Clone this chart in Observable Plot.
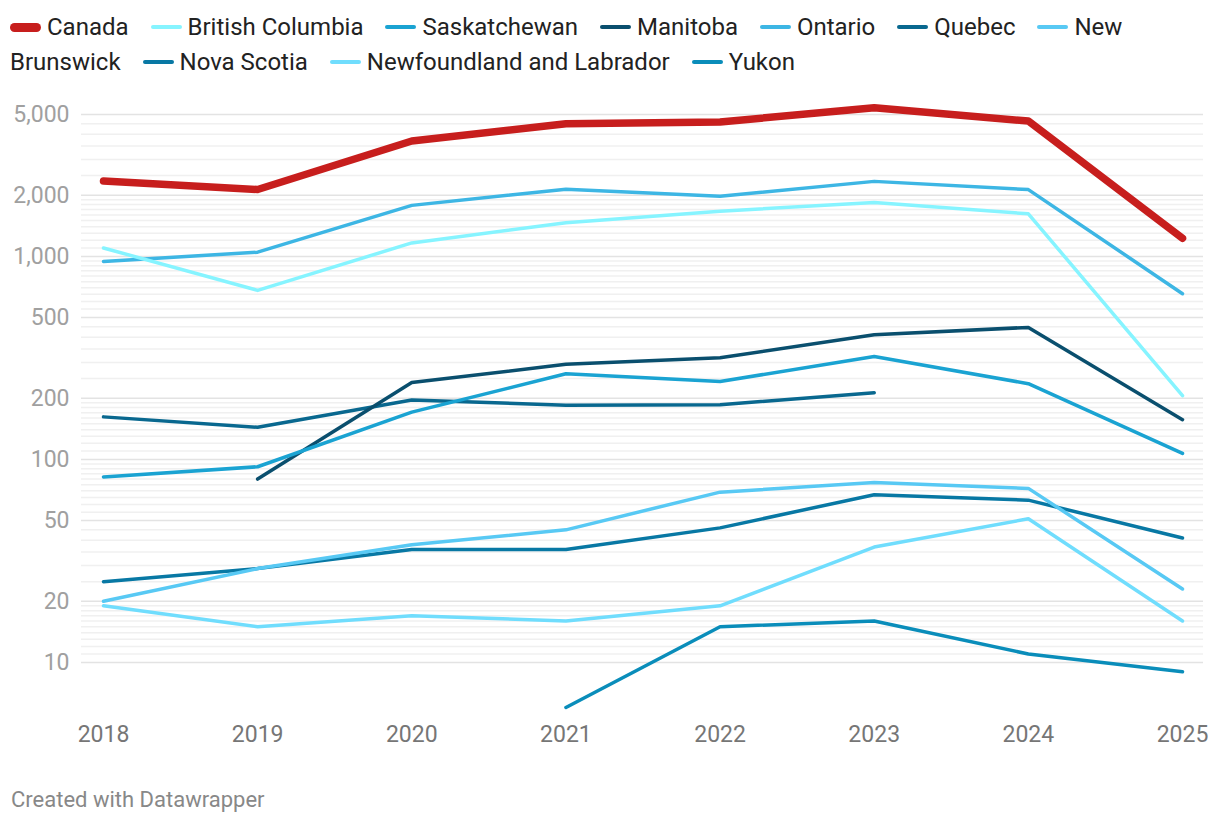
<!DOCTYPE html>
<html>
<head>
<meta charset="utf-8">
<script src="https://cdn.jsdelivr.net/npm/d3@7"></script>
<script src="https://cdn.jsdelivr.net/npm/@observablehq/plot@0.6"></script>
<style>
  html, body { margin: 0; padding: 0; background: #fff; }
  body { width: 1220px; height: 826px; overflow: hidden; font-family: Roboto, sans-serif; }
  #legend { height: 88px; box-sizing: border-box; padding: 9.5px 10px 0 10px; font-size: 24px; line-height: 35px; color: #222; }
  #legend .item { margin-right: 16px; }
  #legend .nw { white-space: nowrap; }
  #legend .sw { display: inline-block; width: 31px; height: 4.5px; border-radius: 3px; margin-right: 6px; vertical-align: 5.5px; }
  #legend .sw.thick { height: 9px; border-radius: 5px; vertical-align: 3px; }
  #chart svg { display: block; }
  #chart g[aria-label^="x-axis"] text { fill: #767676; }
  #caption { margin-top: 19px; padding-left: 11px; font-size: 22px; line-height: 26px; color: #888; }
</style>
</head>
<body>
<div id="legend"></div>
<div id="chart"></div>
<div id="caption">Created with Datawrapper</div>
<script>
const years = [2018, 2019, 2020, 2021, 2022, 2023, 2024, 2025];

const seriesNames = ["Canada", "British Columbia", "Saskatchewan", "Manitoba", "Ontario", "Quebec", "New Brunswick", "Nova Scotia", "Newfoundland and Labrador", "Yukon"];

const canada          = [2350, 2135, 3700, 4500, 4590, 5400, 4640, 1227];
const britishColumbia = [1100, 680, 1165, 1465, 1670, 1840, 1620, 206];
const saskatchewan    = [82, 92, 171, 264, 242, 321, 236, 107];
const manitoba        = [null, 80, 239, 294, 317, 411, 447, 157];
const ontario         = [944, 1049, 1783, 2143, 1976, 2341, 2133, 655];
const quebec          = [162, 144, 196, 185, 186, 213, null, null];
const newBrunswick    = [20, 29, 38, 45, 69, 77, 72, 23];
const novaScotia      = [25, 29, 36, 36, 46, 67, 63, 41];
const newfoundland    = [19, 15, 17, 16, 19, 37, 51, 16];
const yukon           = [null, null, null, 6, 15, 16, 11, 9];

const yTicks = [10, 20, 50, 100, 200, 500, 1000, 2000, 5000];

const seriesValues = [canada, britishColumbia, saskatchewan, manitoba, ontario, quebec, newBrunswick, novaScotia, newfoundland, yukon];
const seriesColors = ["#c71e1d", "#86f4ff", "#1aa3d2", "#0a4f6e", "#3db6e4", "#09688f", "#58c9f4", "#0878a4", "#70ddfd", "#0a8dba"];

// tidy table
const data = [];
seriesNames.forEach((name, i) => {
  seriesValues[i].forEach((v, j) => {
    if (v != null) data.push({series: name, year: years[j], value: v});
  });
});

// minor gridlines (log sub-divisions)
const minorGrid = [];
for (const b of [10, 100, 1000]) {
  for (let k = 11; k < 20; k++) minorGrid.push(b * k / 10);
  for (let k = 25; k < 100; k += 5) minorGrid.push(b * k / 10);
}
const minorFiltered = minorGrid.filter(v => v >= 10 && v <= 5000 && !yTicks.includes(v));

// legend
const legend = document.getElementById("legend");
seriesNames.forEach((name, i) => {
  const item = document.createElement("span");
  item.className = "item";
  const words = name.split(" ");
  const nw = document.createElement("span");
  nw.className = "nw";
  const sw = document.createElement("i");
  sw.className = "sw" + (i === 0 ? " thick" : "");
  sw.style.background = seriesColors[i];
  nw.appendChild(sw);
  nw.appendChild(document.createTextNode(words[0]));
  item.appendChild(nw);
  if (words.length > 1) item.appendChild(document.createTextNode(" " + words.slice(1).join(" ")));
  legend.appendChild(item);
  legend.appendChild(document.createTextNode(" "));
});

const lineMarks = seriesNames.map((name, i) => i).reverse().map(i =>
  Plot.line(data.filter(d => d.series === seriesNames[i]), {
    x: "year", y: "value",
    stroke: seriesColors[i],
    strokeWidth: i === 0 ? 7.5 : 3.5,
    strokeLinecap: "round", strokeLinejoin: "round"
  })
);

const fmt = d3.format(",");

const chart = Plot.plot({
  width: 1220,
  height: 680,
  marginLeft: 81,
  marginRight: 17,
  marginTop: 22.5,
  marginBottom: 61,
  style: {fontFamily: "Roboto, sans-serif", fontSize: "23px", background: "transparent", overflow: "visible"},
  x: {domain: [2018, 2025], insetLeft: 22, insetRight: 21, ticks: years, tickFormat: d => String(d), tickSize: 0, tickPadding: 18, label: null},
  y: {type: "log", domain: [6, 5200], axis: null},
  marks: [
    Plot.ruleY(minorFiltered, {stroke: "#f0f0f0", strokeWidth: 1.5}),
    Plot.ruleY(yTicks, {stroke: "#e3e3e3", strokeWidth: 1.5}),
    Plot.text(yTicks, {y: d => d, text: d => fmt(d), frameAnchor: "left", textAnchor: "end", dx: -12, fill: "#a0a0a0", fontSize: 23}),
    ...lineMarks
  ]
});
document.getElementById("chart").appendChild(chart);
</script>
</body>
</html>
